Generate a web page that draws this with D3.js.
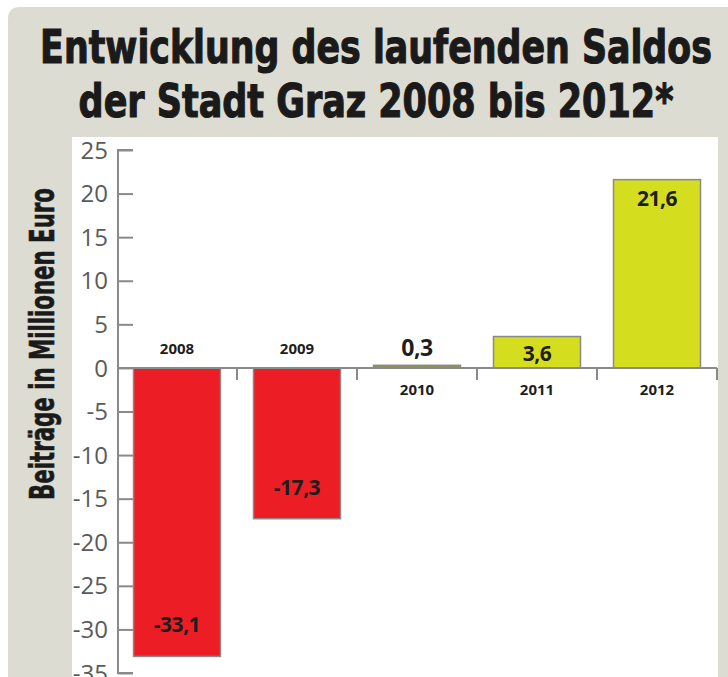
<!DOCTYPE html>
<html><head><meta charset="utf-8">
<script src="https://cdn.jsdelivr.net/npm/d3@7"></script>
<style>
html,body{margin:0;padding:0;background:#fff;}
svg{display:block;}
</style></head>
<body>
<svg id="chart" width="728" height="677"></svg>
<script>
const years = ["2008","2009","2010","2011","2012"];
const values = [-33.1, -17.3, 0.3, 3.6, 21.6];
const valueLabels = ["-33,1","-17,3","0,3","3,6","21,6"];
const yTicks = [25,20,15,10,5,0,-5,-10,-15,-20,-25,-30,-35];
const titleLines = ["Entwicklung des laufenden Saldos","der Stadt Graz 2008 bis 2012*"];
const yTitle = "Beiträge in Millionen Euro";

const svg = d3.select("#chart");
const W = 728, H = 677;
const condensed = "'Liberation Sans Narrow','DejaVu Sans Condensed','Roboto Condensed','Arial Narrow',sans-serif";

// panel
svg.append("path")
  .attr("d", `M8,${H} L8,19 Q8,7 20,7 L${W},7 L${W},${H} Z`)
  .attr("fill", "#dddcd2");
svg.append("rect").attr("x",72).attr("y",137).attr("width",646).attr("height",H-137).attr("fill","#fff");

// helper: fit text horizontally to a target width with a scale transform
function fitText(sel, cx, cy, targetW, rotate) {
  const w = sel.node().getComputedTextLength();
  const s = targetW / w;
  sel.attr("transform", `translate(${cx},${cy})${rotate ? " rotate(-90)" : ""} scale(${s},1)`);
}

// title
const tWidths = [672, 595];
titleLines.forEach((t,i)=>{
  const tx = svg.append("text")
    .attr("x", 0).attr("y", 0)
    .attr("text-anchor","middle")
    .attr("font-family", condensed)
    .attr("font-stretch","condensed")
    .attr("font-weight","bold")
    .attr("font-size", 46)
    .attr("fill","#1a1a1a")
    .attr("stroke","#1a1a1a").attr("stroke-width",1.1)
    .text(t);
  fitText(tx, 376, 63 + i*54, tWidths[i], false);
});

// y axis title
const yt = svg.append("text")
  .attr("text-anchor","middle")
  .attr("font-family", condensed)
  .attr("font-stretch","condensed")
  .attr("font-weight","bold")
  .attr("font-size", 33)
  .attr("fill","#1a1a1a")
  .attr("stroke","#1a1a1a").attr("stroke-width",0.6)
  .text(yTitle);
fitText(yt, 54, 344, 312, true);

// scales
const y = d3.scaleLinear().domain([-35, 25]).range([673, 150]);
const x = d3.scaleBand().domain(years).range([117, 717]).paddingInner(0.275).paddingOuter(0.1375);

// y axis
const yAxis = d3.axisRight(y).tickValues(yTicks).tickSize(15).tickFormat(()=>"");
const gy = svg.append("g").attr("transform","translate(118,0)").call(yAxis);
gy.selectAll("path,line").attr("stroke","#8a8a8a").attr("stroke-width",2);
gy.select(".domain").attr("d", `M15,${y(25)}H0V${y(-35)}H15`);

svg.append("g").selectAll("text").data(yTicks).join("text")
  .attr("x",108).attr("y", d=>y(d)).attr("dy","0.36em")
  .attr("text-anchor","end")
  .attr("font-family","'Open Sans',sans-serif")
  .attr("font-size",24)
  .attr("fill","#5a5a5a")
  .text(d=> d<0 ? "-"+Math.abs(d) : d);

// bars
const colorFor = (v)=> v < 0 ? "#ec1d25" : (v < 1 ? "#8f9160" : "#d5dd1f");
svg.append("g").selectAll("rect").data(values).join("rect")
  .attr("x",(d,i)=>x(years[i]))
  .attr("width", x.bandwidth())
  .attr("y", d=> y(Math.max(0,d)))
  .attr("height", d=> Math.abs(y(d)-y(0)))
  .attr("fill", colorFor)
  .attr("stroke","#8a8a8a")
  .attr("stroke-width",1.5);

// x axis line and ticks
const gx = svg.append("g").attr("transform",`translate(0,${y(0)})`);
gx.append("line").attr("x1",118).attr("x2",717).attr("y1",0).attr("y2",0)
  .attr("stroke","#8a8a8a").attr("stroke-width",2);
const boundaries = years.slice(1).map(yy => x(yy) - x.step()*x.paddingInner()/2);
boundaries.push(717);
gx.selectAll("line.tk").data(boundaries).join("line").attr("class","tk")
  .attr("x1",d=>d).attr("x2",d=>d).attr("y1",0).attr("y2",12)
  .attr("stroke","#8a8a8a").attr("stroke-width",2);

// year labels
svg.append("g").selectAll("text").data(years).join("text")
  .attr("x", d=>x(d)+x.bandwidth()/2)
  .attr("y", (d,i)=> values[i] < 0 ? y(0)-14 : y(0)+27)
  .attr("text-anchor","middle")
  .attr("font-family","'Open Sans',sans-serif")
  .attr("font-weight","bold")
  .attr("font-size",15)
  .attr("fill","#1e1e1e")
  .text(d=>d);

// value labels
svg.append("g").selectAll("text").data(values).join("text")
  .attr("x",(d,i)=>x(years[i])+x.bandwidth()/2)
  .attr("y",(d)=>{
    const h = Math.abs(y(d)-y(0));
    if (h < 10) return y(d) - 9;
    if (h < 60) return y(d) + h/2 + 9;
    return d < 0 ? y(d) - 24 : y(d) + 26;
  })
  .attr("text-anchor","middle")
  .attr("font-family","'Open Sans',sans-serif")
  .attr("font-weight","bold")
  .attr("font-size",(d)=> Math.abs(y(d)-y(0)) < 10 ? 23 : 21)
  .attr("letter-spacing",-0.5)
  .attr("fill","#1e1e1e")
  .text((d,i)=>valueLabels[i]);
</script>
</body></html>
